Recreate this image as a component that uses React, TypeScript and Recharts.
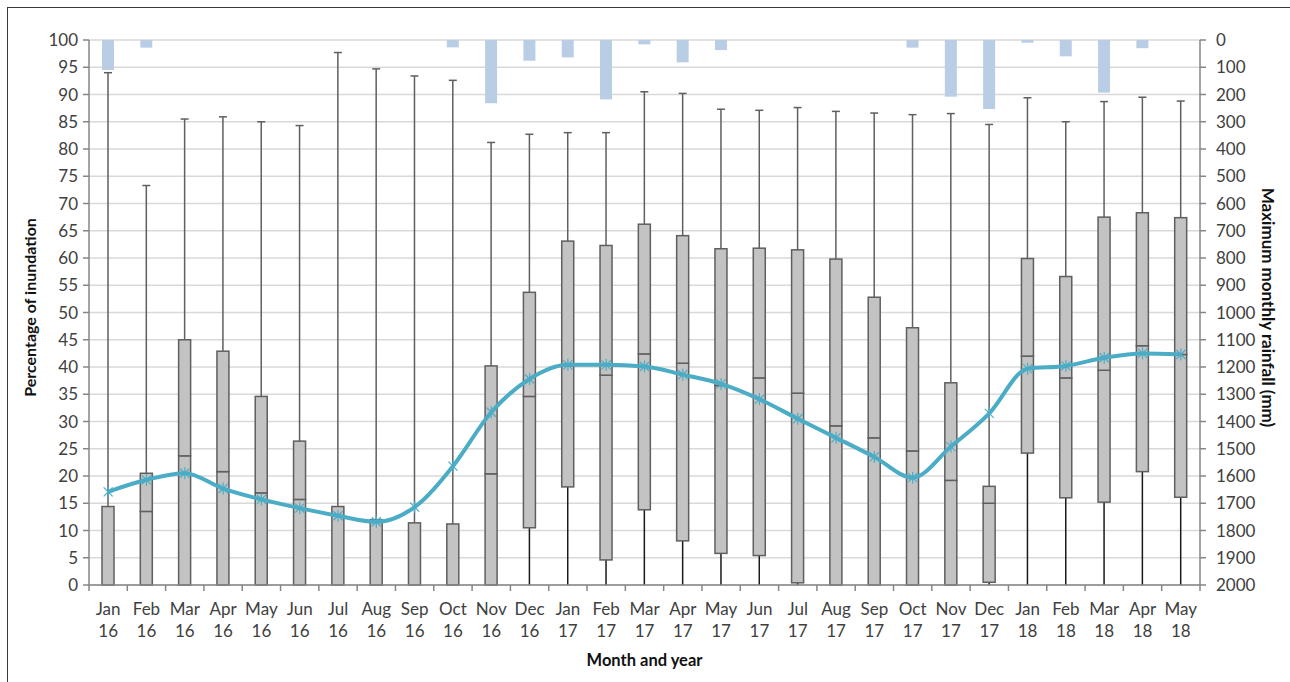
import {
  ComposedChart,
  Bar,
  Line,
  XAxis,
  YAxis,
  CartesianGrid,
  Label,
} from "recharts";

const months = [
  "Jan 16", "Feb 16", "Mar 16", "Apr 16", "May 16", "Jun 16", "Jul 16", "Aug 16", "Sep 16", "Oct 16",
  "Nov 16", "Dec 16", "Jan 17", "Feb 17", "Mar 17", "Apr 17", "May 17", "Jun 17", "Jul 17", "Aug 17",
  "Sep 17", "Oct 17", "Nov 17", "Dec 17", "Jan 18", "Feb 18", "Mar 18", "Apr 18", "May 18",
];

// box plot statistics, % of inundation
const whiskerMin = [0, 0, 0, 0, 0, 0, 0, 0, 0, 0, 0, 0, 0, 0, 0, 0, 0, 0, 0, 0, 0, 0, 0, 0, 0, 0, 0, 0, 0];
const q1 = [0, 0, 0, 0, 0, 0, 0, 0, 0, 0, 0, 10.5, 18, 4.6, 13.8, 8.1, 5.8, 5.4, 0.4, 0, 0, 0, 0, 0.5, 24.2, 16, 15.2, 20.8, 16.1];
const median = [0, 13.5, 23.7, 20.8, 16.9, 15.7, 0, 0, 0, 0, 20.4, 34.6, 40.2, 38.5, 42.4, 40.7, 36.6, 38, 35.2, 29.2, 27, 24.6, 19.2, 15, 42, 38, 39.4, 43.9, 42.3];
const q3 = [14.4, 20.5, 45, 42.9, 34.6, 26.4, 14.4, 12, 11.4, 11.2, 40.2, 53.7, 63.1, 62.3, 66.2, 64.1, 61.7, 61.8, 61.5, 59.8, 52.8, 47.2, 37.1, 18.1, 59.9, 56.6, 67.5, 68.3, 67.4];
const whiskerMax = [94, 73.3, 85.5, 85.9, 85, 84.3, 97.7, 94.7, 93.4, 92.6, 81.2, 82.7, 83, 83, 90.5, 90.2, 87.3, 87.1, 87.6, 86.9, 86.6, 86.3, 86.5, 84.5, 89.4, 85, 88.7, 89.5, 88.8];
const meanPct = [17.1, 19.3, 20.5, 17.7, 15.7, 14.1, 12.7, 11.6, 14.3, 21.8, 31.7, 37.8, 40.4, 40.4, 40.1, 38.6, 36.9, 34.1, 30.5, 27, 23.5, 19.7, 25.4, 31.5, 39.7, 40.2, 41.7, 42.5, 42.3];

// maximum monthly rainfall (mm), drawn from the top on a reversed axis
const rainfall = [110, 28, 0, 0, 0, 0, 0, 0, 0, 27, 232, 76, 64, 218, 16, 82, 37, 0, 0, 0, 0, 28, 208, 253, 10, 60, 193, 30, 0];

const pctTicks = [0, 5, 10, 15, 20, 25, 30, 35, 40, 45, 50, 55, 60, 65, 70, 75, 80, 85, 90, 95, 100];
const rainTicks = [0, 100, 200, 300, 400, 500, 600, 700, 800, 900, 1000, 1100, 1200, 1300, 1400, 1500, 1600, 1700, 1800, 1900, 2000];

const FONT = "Lato, 'Open Sans', sans-serif";
const TEXT = "#404040";
const AXIS = "#868686";
const LINE = "#4BACC6";

const data = months.map((label, i) => ({
  label,
  base: whiskerMin[i],
  lowWhisker: q1[i] - whiskerMin[i],
  lowBox: median[i] - q1[i],
  highBox: q3[i] - median[i],
  highWhisker: whiskerMax[i] - q3[i],
  mean: meanPct[i],
  rain: rainfall[i],
}));

const Empty = () => <g />;

const LowWhisker = (props: any) => {
  const { x, y, width, height } = props;
  if (!height) return <g />;
  const cx = x + width / 2;
  return <line x1={cx} x2={cx} y1={y} y2={y + height} stroke="#1a1a1a" strokeWidth={1.5} />;
};

const BoxPart = (props: any) => {
  const { x, y, width, height } = props;
  return (
    <rect x={x} y={y} width={width} height={Math.max(height, 0)} fill="#C3C3C3" stroke="#5f5f5f" strokeWidth={1.5} />
  );
};

const HighWhisker = (props: any) => {
  const { x, y, width, height } = props;
  const cx = x + width / 2;
  return (
    <g stroke="#5f5f5f" strokeWidth={1.5}>
      <line x1={cx} x2={cx} y1={y} y2={y + height} />
      <line x1={cx - 4} x2={cx + 4} y1={y} y2={y} />
    </g>
  );
};

const StarDot = (props: any) => {
  const { cx, cy, index } = props;
  if (cx == null || cy == null) return <g key={index} />;
  const r = 6;
  const d = 4.5;
  return (
    <g key={index} stroke={LINE} strokeWidth={1.2}>
      <line x1={cx - d} y1={cy - d} x2={cx + d} y2={cy + d} />
      <line x1={cx - d} y1={cy + d} x2={cx + d} y2={cy - d} />
      <line x1={cx} y1={cy - r} x2={cx} y2={cy + r} />
    </g>
  );
};

const MonthTick = (props: any) => {
  const { x, y, payload, index } = props;
  const half = payload && payload.offset ? payload.offset : 19.15;
  const [m, yr] = String(payload.value).split(" ");
  return (
    <g>
      <line x1={x - half} x2={x - half} y1={y} y2={y + 6} stroke={AXIS} strokeWidth={1.5} />
      {index === months.length - 1 && (
        <line x1={x + half} x2={x + half} y1={y} y2={y + 6} stroke={AXIS} strokeWidth={1.5} />
      )}
      <text x={x} y={y + 30} textAnchor="middle" fill={TEXT} fontSize={17} fontFamily={FONT}>
        {m}
      </text>
      <text x={x} y={y + 52} textAnchor="middle" fill={TEXT} fontSize={17} fontFamily={FONT}>
        {yr}
      </text>
    </g>
  );
};

export default function App() {
  return (
    <div style={{ position: "absolute", left: 0, top: 0, width: 1290, height: 682, overflow: "hidden", background: "#fff" }}>
      <div
        style={{
          position: "absolute",
          left: 7,
          top: 7,
          width: 1400,
          height: 800,
          borderLeft: "1.5px solid #3a3a3a",
          borderTop: "1.5px solid #3a3a3a",
        }}
      />
      <ComposedChart
        width={1290}
        height={682}
        data={data}
        margin={{ top: 40, right: 0, bottom: 0, left: 0 }}
        style={{ position: "absolute", left: 0, top: 0, fontFamily: FONT }}
      >
        <CartesianGrid yAxisId="pct" vertical={false} stroke="#d9d9d9" strokeWidth={1.5} />
        <XAxis
          dataKey="label"
          xAxisId="main"
          height={97}
          interval={0}
          tickLine={false}
          tickSize={0}
          tickMargin={0}
          stroke={AXIS}
          strokeWidth={1.5}
          tick={<MonthTick />}
        >
          <Label value="Month and year" position="insideBottom" offset={16} fill="#111" fontSize={16.5} fontWeight="bold" fontFamily={FONT} />
        </XAxis>
        <XAxis dataKey="label" xAxisId="rainX" hide />
        <YAxis
          yAxisId="pct"
          width={89}
          domain={[0, 100]}
          ticks={pctTicks}
          interval={0}
          tickSize={6}
          tickMargin={5}
          stroke={AXIS}
          strokeWidth={1.5}
          tick={{ fill: TEXT, fontSize: 17, fontFamily: FONT }}
        >
          <Label value="Percentage of inundation" angle={-90} position="center" dx={-14} dy={-5} fill="#111" fontSize={16} fontWeight="bold" fontFamily={FONT} />
        </YAxis>
        <YAxis
          yAxisId="rain"
          orientation="right"
          width={90}
          domain={[0, 2000]}
          reversed
          ticks={rainTicks}
          interval={0}
          tickSize={6}
          tickMargin={10}
          stroke={AXIS}
          strokeWidth={1.5}
          tick={{ fill: TEXT, fontSize: 17, fontFamily: FONT, textAnchor: "start" }}
        >
          <Label value="Maximum monthly rainfall (mm)" angle={90} position="center" dx={23} dy={-5} fill="#111" fontSize={17} fontWeight="bold" fontFamily={FONT} />
        </YAxis>

        <Bar dataKey="rain" xAxisId="rainX" yAxisId="rain" barSize={12} fill="#B9CDE5" isAnimationActive={false} />

        <Bar dataKey="base" stackId="box" xAxisId="main" yAxisId="pct" barSize={12} shape={<Empty />} isAnimationActive={false} />
        <Bar dataKey="lowWhisker" stackId="box" xAxisId="main" yAxisId="pct" barSize={12} shape={<LowWhisker />} isAnimationActive={false} />
        <Bar dataKey="lowBox" stackId="box" xAxisId="main" yAxisId="pct" barSize={12} shape={<BoxPart />} isAnimationActive={false} />
        <Bar dataKey="highBox" stackId="box" xAxisId="main" yAxisId="pct" barSize={12} shape={<BoxPart />} isAnimationActive={false} />
        <Bar dataKey="highWhisker" stackId="box" xAxisId="main" yAxisId="pct" barSize={12} shape={<HighWhisker />} isAnimationActive={false} />

        <Line
          dataKey="mean"
          xAxisId="main"
          yAxisId="pct"
          type="monotone"
          stroke={LINE}
          strokeWidth={4}
          dot={(p: any) => <StarDot {...p} key={p.index} />}
          activeDot={false}
          isAnimationActive={false}
        />
      </ComposedChart>
    </div>
  );
}
